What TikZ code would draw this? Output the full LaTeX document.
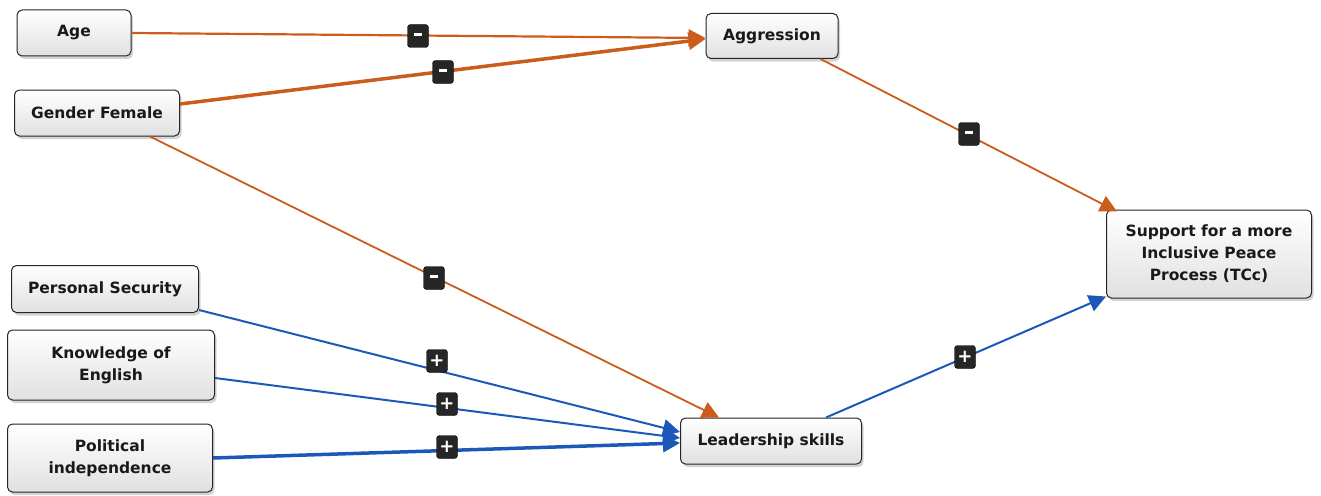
\documentclass[tikz,border=0pt]{standalone}
\usepackage{fontspec}
\setmainfont{DejaVu Sans}
\usetikzlibrary{arrows.meta,shadows,calc}
\definecolor{orangeE}{RGB}{204,92,28}
\definecolor{blueE}{RGB}{28,88,184}
\tikzset{
  box/.style={draw=black!85, line width=1pt, rounded corners=5pt,
    top color=white, bottom color=black!12, align=center,
    font=\fontsize{15.5}{22}\selectfont\bfseries, text=black!90,
    drop shadow={opacity=0.35, shadow xshift=2pt, shadow yshift=-3pt},
    inner sep=0pt},
  sign/.style={fill=black!85, draw=black, rounded corners=3pt,
    minimum width=21pt, minimum height=23pt, inner sep=0pt,
    text=white, font=\fontsize{18}{18}\selectfont\bfseries},
  oarr/.style={draw=orangeE, line width=2.2pt, -{Triangle[length=17pt,width=17pt]}},
  barr/.style={draw=blueE, line width=2pt, -{Triangle[length=17pt,width=17pt]}},
}
\newcommand{\mns}{\rule[3pt]{8pt}{3.5pt}}
\begin{document}
\begin{tikzpicture}[x=1pt,y=-1pt]
\useasboundingbox (0,0) rectangle (1321,495);
% nodes
\node[box, minimum width=114pt, minimum height=46pt] (age) at (74,33) {Age};
\node[box, minimum width=165pt, minimum height=46pt] (gen) at (97,113) {Gender Female};
\node[box, minimum width=132pt, minimum height=45pt] (aggr) at (772,36) {Aggression};
\node[box, minimum width=205pt, minimum height=88pt] (sup) at (1209,254) {Support for a more\\Inclusive Peace\\Process (TCc)};
\node[box, minimum width=187pt, minimum height=47pt] (pers) at (105,289) {Personal Security};
\node[box, minimum width=207pt, minimum height=70pt] (eng) at (111,365) {Knowledge of\\English};
\node[box, minimum width=205pt, minimum height=68pt] (pol) at (110,458) {Political\\independence};
\node[box, minimum width=181pt, minimum height=46pt] (lead) at (771,441) {Leadership skills};
% connectors
\draw[oarr] (age.east) -- ($(aggr.west)+(0,2)$);
\draw[oarr, line width=3.5pt] ($(gen.east)+(0,-9)$) -- ($(aggr.west)+(0,3)$);
\draw[oarr, line width=1.8pt] ($(gen.south east)+(-30,0)$) -- ($(lead.north west)+(39,0)$);
\draw[oarr, line width=1.8pt] ($(aggr.south east)+(-18,0)$) -- ($(sup.north west)+(11,2)$);
\draw[barr] ($(pers.east)+(0,21)$) -- ($(lead.west)+(0,-9)$);
\draw[barr] ($(eng.east)+(0,13)$) -- ($(lead.west)+(0,-3)$);
\draw[barr, line width=3.5pt] (pol.east) -- ($(lead.west)+(0,2)$);
\draw[barr] ($(lead.north east)+(-36,0)$) -- ($(sup.south west)+(0,-2)$);
% signs
\node[sign] (s1) at (418,36) {\mns};
\node[sign] (s2) at (443,72) {\mns};
\node[sign] (s3) at (434,278) {\mns};
\node[sign] (s4) at (969,134) {\mns};
\node[sign] (s5) at (437,361) {+};
\node[sign] (s6) at (447,404) {+};
\node[sign] (s7) at (447,447) {+};
\node[sign] (s8) at (965,357) {+};
\end{tikzpicture}
\end{document}
